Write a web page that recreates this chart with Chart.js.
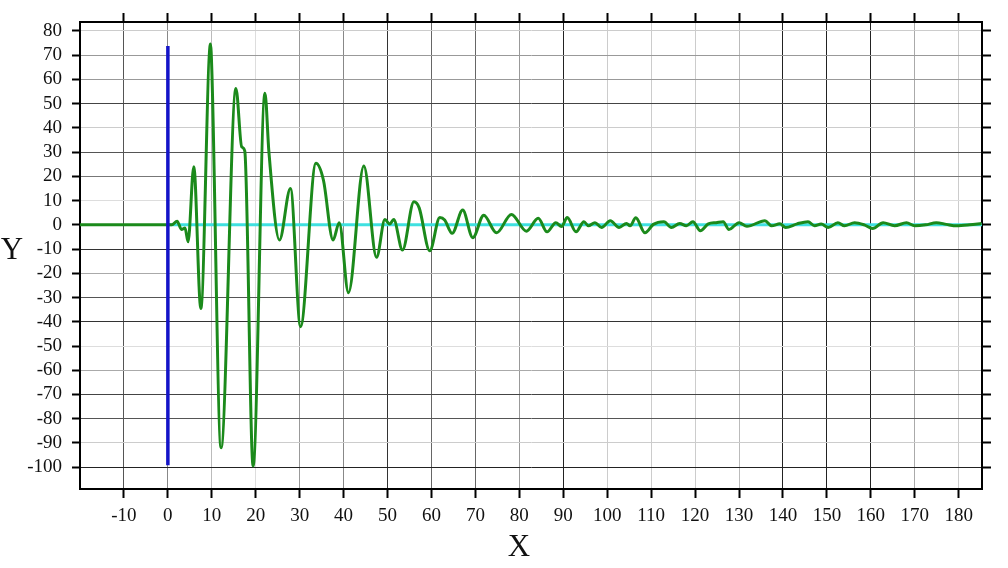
<!DOCTYPE html>
<html>
<head>
<meta charset="utf-8">
<script src="https://cdn.jsdelivr.net/npm/chart.js@4"></script>
<style>
  html, body { margin: 0; padding: 0; background: #ffffff; }
  #wrap { width: 1008px; height: 568px; }
</style>
</head>
<body>
<div id="wrap"><canvas id="c" width="1008" height="568"></canvas></div>
<script>
// ---- data ----
const waveX = [-20, 0, 0.9, 2.1, 3.1, 3.9, 4.6, 5.9, 7.5, 9.7, 10.0, 12.1, 15.5, 16.8, 17.5, 19.4,
  22.1, 23.0, 25.4, 27.9, 30.2, 33.7, 35.4, 37.6, 39.0, 41.1, 44.6, 47.5, 49.4, 50.5, 51.4, 53.4,
  56.0, 57.2, 59.6, 61.9, 63.0, 64.7, 67.1, 69.4, 71.9, 74.8, 78.2, 81.6, 84.3, 86.3, 88.3, 89.6,
  90.9, 92.9, 94.7, 95.7, 97.2, 98.7, 100.7, 102.7, 104.4, 105.2, 106.5, 108.6, 110.5, 112.9,
  114.6, 116.5, 118.0, 119.5, 121.2, 123.0, 124.8, 126.4, 127.7, 130.0, 131.8, 135.9, 137.4,
  139.3, 140.6, 143.2, 145.7, 147.2, 148.7, 150.3, 152.5, 154.0, 156.3, 158.5, 160.4, 162.8,
  165.4, 168.1, 170.0, 172.5, 174.9, 177.2, 179.5, 182.5, 185.2];
const waveY = [0, 0, 0, 1.5, -1.9, -1.3, -7.0, 24, -34.5, 74.6, 64, -92, 56.3, 32.2, 30.5, -99.5,
  54.3, 30, -6.3, 15, -42, 25.4, 18.5, -6.3, 0.9, -28, 24.3, -13.4, 2.2, 0.3, 2.2, -10.4,
  9.5, 7, -10.7, 3.0, 2.0, -3.5, 6.1, -5.3, 4.0, -3.3, 4.3, -2.6, 2.7, -2.9, 0.9, -0.7,
  3.0, -2.9, 1.3, -0.4, 0.9, -1.1, 1.7, -1.1, 0.6, -0.4, 2.9, -3.3, 0.2, 1.3,
  -1.1, 0.6, -0.4, 1.3, -2.4, 0.4, 0.9, 1.3, -1.9, 0.9, -0.6, 1.7, -0.4,
  0.4, -1.1, 0.4, 1.3, -0.4, 0.3, -1.1, 0.9, -0.4, 0.9, 0, -1.5, 0.9,
  -0.4, 0.9, -0.4, 0, 0.9, 0.2, -0.4, 0, 0.6];
const impulseX = [0, 0];
const impulseY = [-99.2, 73.8];
const baseX = [0, 185.5];
const baseY = [0, 0];
const xTicks = [-10, 0, 10, 20, 30, 40, 50, 60, 70, 80, 90, 100, 110, 120, 130, 140, 150, 160, 170, 180];
const yTicks = [80, 70, 60, 50, 40, 30, 20, 10, 0, -10, -20, -30, -40, -50, -60, -70, -80, -90, -100];
const xTitle = 'X';
const yTitle = 'Y';

// ---- styles ----
const xGridColor = {'-10':'#555','0':'#888','10':'#bbb','20':'#ddd','30':'#999','40':'#888','50':'#333',
  '60':'#666','70':'#666','80':'#999','90':'#222','100':'#ccc','110':'#ccc','120':'#ccc','130':'#bbb',
  '140':'#222','150':'#222','160':'#222','170':'#aaa','180':'#ccc'};
const yGridColor = {'80':'#ccc','70':'#999','60':'#999','50':'#444','40':'#ccc','30':'#555','20':'#777',
  '10':'#ddd','0':'#888','-10':'#333','-20':'#aaa','-30':'#555','-40':'#333','-50':'#ddd','-60':'#aaa',
  '-70':'#444','-80':'#555','-90':'#ccc','-100':'#222'};
const FONT = "'Liberation Serif', 'DejaVu Serif', serif";

const zip = (xs, ys) => xs.map((x, i) => ({x: x, y: ys[i]}));
const setTicks = arr => (scale) => { scale.ticks = arr.map(v => ({value: v})); };

const titlePlugin = {
  id: 'axisTitles',
  afterDraw(chart) {
    const ctx = chart.ctx;
    ctx.save();
    ctx.fillStyle = '#111';
    ctx.font = '31px ' + FONT;
    ctx.textAlign = 'center';
    ctx.textBaseline = 'middle';
    ctx.fillText(yTitle, 12, 251);
    ctx.fillText(xTitle, 519, 548);
    ctx.restore();
  }
};

new Chart(document.getElementById('c'), {
  type: 'line',
  data: {
    datasets: [
      { data: zip(impulseX, impulseY), borderColor: '#1414c8', borderWidth: 3.5, pointRadius: 0, order: 0 },
      { data: zip(waveX, waveY), borderColor: '#1b8a1b', borderWidth: 3, pointRadius: 0,
        cubicInterpolationMode: 'monotone', order: 1 },
      { data: zip(baseX, baseY), borderColor: '#3fe0e0', borderWidth: 3, pointRadius: 0, order: 3 }
    ]
  },
  options: {
    responsive: false,
    devicePixelRatio: 1,
    animation: false,
    layout: { padding: 0 },
    plugins: { legend: { display: false }, tooltip: { enabled: false } },
    scales: {
      x: {
        type: 'linear', position: 'bottom', min: -20, max: 185.3,
        afterBuildTicks: setTicks(xTicks),
        afterFit: s => { s.height = 79; },
        border: { display: true, color: '#000', width: 2 },
        grid: { color: c => xGridColor[String(c.tick ? c.tick.value : '')] || '#999', lineWidth: 1,
                drawTicks: true, tickLength: 9, tickColor: '#000', tickWidth: 2 },
        ticks: { autoSkip: false, maxRotation: 0, padding: 7, color: '#111',
                 font: { family: FONT, size: 19 } }
      },
      x2: {
        type: 'linear', position: 'top', min: -20, max: 185.3,
        afterBuildTicks: setTicks(xTicks),
        afterFit: s => { s.height = 22; },
        border: { display: true, color: '#000', width: 2 },
        grid: { drawOnChartArea: false, drawTicks: true, tickLength: 9, tickColor: '#000', tickWidth: 2 },
        ticks: { display: false }
      },
      y: {
        type: 'linear', position: 'left', min: -109, max: 83.7,
        afterBuildTicks: setTicks(yTicks),
        afterFit: s => { s.width = 80; },
        border: { display: true, color: '#000', width: 2 },
        grid: { color: c => yGridColor[String(c.tick ? c.tick.value : '')] || '#999', lineWidth: 1,
                drawTicks: true, tickLength: 8, tickColor: '#000', tickWidth: 2 },
        ticks: { autoSkip: false, padding: 10, color: '#111', font: { family: FONT, size: 19 } }
      },
      y2: {
        type: 'linear', position: 'right', min: -109, max: 83.7,
        afterBuildTicks: setTicks(yTicks),
        afterFit: s => { s.width = 26; },
        border: { display: true, color: '#000', width: 2 },
        grid: { drawOnChartArea: false, drawTicks: true, tickLength: 9, tickColor: '#000', tickWidth: 2 },
        ticks: { display: false }
      }
    }
  },
  plugins: [titlePlugin]
});
</script>
</body>
</html>
